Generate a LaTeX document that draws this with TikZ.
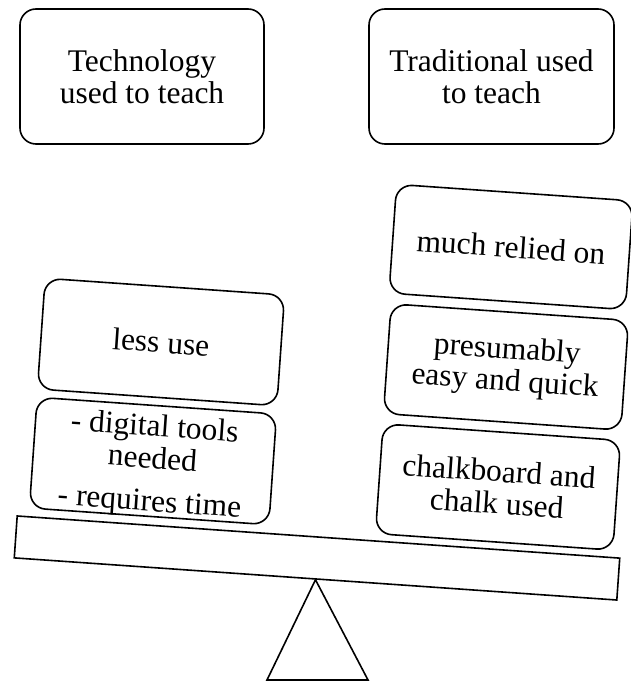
\documentclass[tikz,border=0pt]{standalone}
\usepackage{fontspec}
\setmainfont{Liberation Serif}
\begin{document}
\begin{tikzpicture}[x=1pt,y=-1pt,
  ink/.style={line width=1.6pt},
  txt/.style={font=\fontsize{31.5}{32}\selectfont},
  card/.style={draw, ink, rounded corners=16pt, align=center, inner sep=0pt, txt},
  tilted/.style={card, rotate=-4},
  label/.style={align=center, inner sep=0pt, rotate=-4, txt}]
\useasboundingbox (0,0) rectangle (630,684);

% headings
\node[card, minimum width=244pt, minimum height=135pt] (tech) at (142,76.5)
  {Technology\\used to teach};
\node[card, minimum width=245pt, minimum height=135pt] (trad) at (491.5,76.5)
  {Traditional used\\to teach};

% left pan
\node[tilted, minimum width=240pt, minimum height=111pt] (less) at (161,342) {less use};
\node[tilted, minimum width=240pt, minimum height=111pt] (digital) at (153,461) {};
\node[label] (digitaltext) at (152,466)
  {- digital tools\\needed\\[11pt]- requires time};

% right pan
\node[tilted, minimum width=237pt, minimum height=109pt] (relied) at (511,247)
  {much relied on};
\node[tilted, minimum width=238pt, minimum height=110pt] (easy) at (506,367)
  {presumably\\easy and quick};
\node[tilted, minimum width=238pt, minimum height=110pt] (chalk) at (498,487)
  {chalkboard and\\chalk used};

% beam and fulcrum
\node[draw, ink, rotate=-4, minimum width=604pt, minimum height=42pt, inner sep=0pt]
  (beam) at (317,558) {};
\coordinate (baseL) at (267,680);
\coordinate (baseR) at (368,680);
\draw[ink] (beam.south) -- (baseR) -- (baseL) -- cycle;
\end{tikzpicture}
\end{document}
